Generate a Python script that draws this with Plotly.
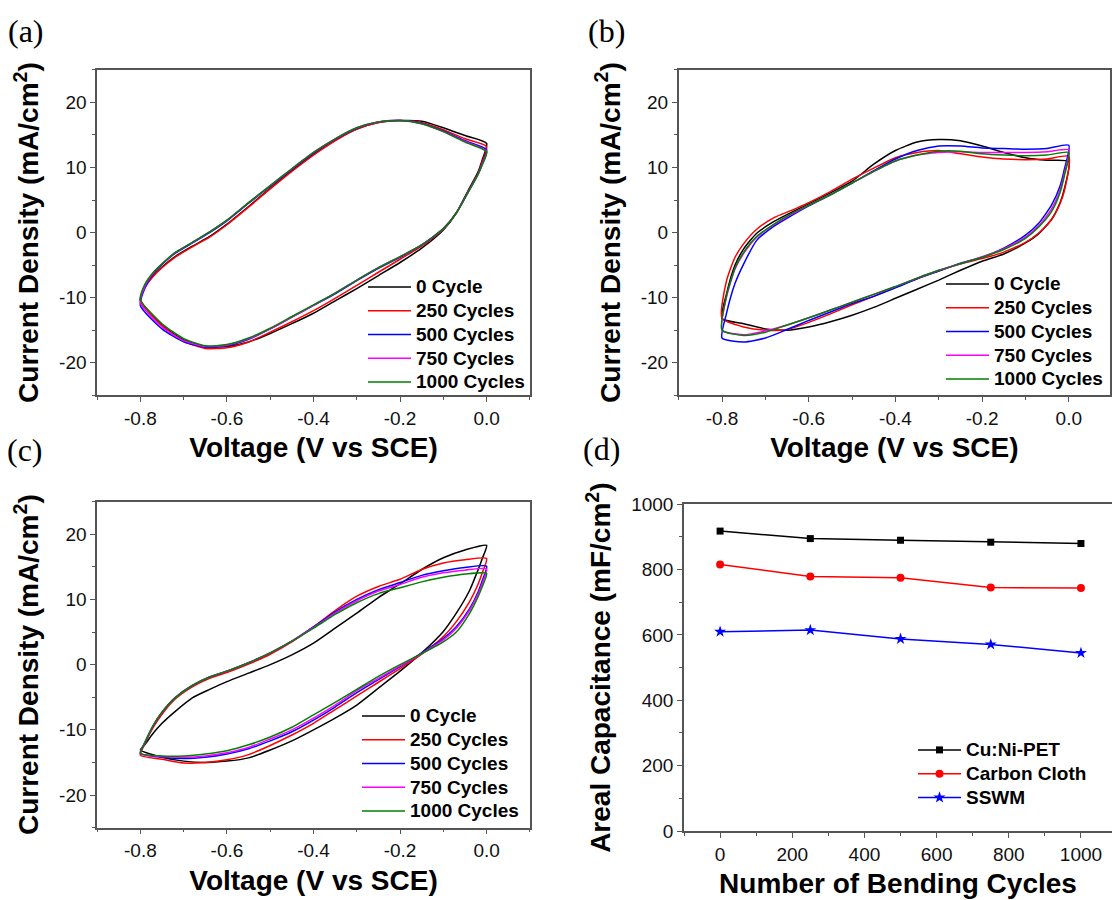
import plotly.graph_objects as go

# ---------------- data ----------------
V_UP = [-0.80, -0.79, -0.77, -0.75, -0.72, -0.68, -0.64, -0.60, -0.55, -0.50,
        -0.45, -0.40, -0.35, -0.30, -0.25, -0.20, -0.15, -0.10, -0.05, 0.00]
V_DOWN = [0.00, -0.01, -0.02, -0.04, -0.07, -0.10, -0.15, -0.20, -0.25, -0.30,
          -0.35, -0.40, -0.45, -0.50, -0.55, -0.60, -0.65, -0.70, -0.75, -0.80]

CV_LABELS = ["0 Cycle", "250 Cycles", "500 Cycles", "750 Cycles", "1000 Cycles"]
CV_COLORS = ["#000000", "#ff0000", "#0000ff", "#ff00ff", "#008000"]

# panel (a)
A0_UP = [-10.4, -8.4, -6.6, -5.3, -3.7, -2.1, -0.6, 1.3, 4.0, 6.8, 9.5, 12.0, 14.2, 15.9, 16.9, 17.2, 17.1, 16.1, 14.9, 13.7]
A0_DOWN = [13.7, 11.2, 9.3, 6.8, 3.0, 0.4, -2.4, -4.6, -6.6, -8.6, -10.5, -12.4, -14.0, -15.5, -16.8, -17.5, -17.5, -16.5, -14.2, -10.4]
A250_UP = [-10.4, -8.5, -6.7, -5.4, -3.8, -2.2, -0.7, 1.2, 3.9, 6.7, 9.4, 11.9, 14.1, 15.9, 16.9, 17.2, 16.9, 15.8, 14.4, 13.2]
A250_DOWN = [13.2, 10.9, 9.1, 6.7, 3.0, 0.5, -2.1, -4.1, -6.1, -8.1, -10.1, -12.0, -13.7, -15.3, -16.8, -17.7, -17.8, -16.7, -14.3, -10.4]
A500_UP = [-11.2, -8.6, -6.3, -4.9, -3.2, -1.6, 0.0, 1.8, 4.5, 7.1, 9.7, 12.2, 14.3, 16.0, 17.0, 17.2, 16.8, 15.6, 14.1, 12.7]
A500_DOWN = [12.7, 10.6, 9.0, 6.6, 3.0, 0.6, -1.9, -3.8, -5.5, -7.4, -9.4, -11.2, -13.0, -14.8, -16.4, -17.4, -17.6, -16.8, -14.8, -11.2]
A750_UP = [-10.8, -8.3, -6.2, -4.8, -3.1, -1.5, 0.1, 1.9, 4.6, 7.2, 9.8, 12.3, 14.4, 16.1, 17.0, 17.2, 16.7, 15.5, 14.0, 12.5]
A750_DOWN = [12.5, 10.5, 8.9, 6.5, 3.0, 0.6, -1.9, -3.7, -5.4, -7.3, -9.3, -11.2, -13.0, -14.8, -16.3, -17.3, -17.5, -16.6, -14.5, -10.8]
A1000_UP = [-10.3, -8.0, -6.1, -4.8, -3.1, -1.5, 0.1, 1.9, 4.6, 7.2, 9.8, 12.3, 14.4, 16.1, 17.0, 17.2, 16.7, 15.5, 13.9, 12.4]
A1000_DOWN = [12.4, 10.4, 8.9, 6.5, 3.0, 0.6, -1.9, -3.7, -5.4, -7.3, -9.3, -11.1, -12.9, -14.7, -16.2, -17.2, -17.4, -16.3, -14.0, -10.3]

# panel (b)
B0_UP = [-13.2, -9.5, -5.0, -2.5, -0.1, 1.7, 3.1, 4.4, 6.1, 7.9, 10.5, 12.6, 13.9, 14.3, 14.1, 13.3, 12.3, 11.5, 11.1, 10.9]
B0_DOWN = [10.9, 6.8, 4.6, 2.0, -0.2, -1.6, -3.3, -4.4, -5.8, -7.3, -8.7, -10.1, -11.5, -12.7, -13.7, -14.5, -15.0, -14.8, -14.0, -13.2]
B250_UP = [-13.2, -7.5, -3.8, -1.7, 0.5, 2.3, 3.4, 4.6, 6.3, 8.2, 9.9, 11.5, 12.3, 12.6, 12.1, 11.6, 11.3, 11.2, 11.3, 11.7]
B250_DOWN = [11.7, 6.5, 4.5, 2.0, -0.1, -1.5, -3.0, -4.0, -4.8, -5.9, -7.1, -8.4, -9.8, -11.1, -12.5, -13.8, -14.9, -15.0, -14.5, -13.2]
B500_UP = [-16.2, -12.5, -7.8, -4.8, -1.2, 1.0, 2.6, 4.1, 5.8, 7.6, 9.5, 11.3, 12.6, 13.3, 13.3, 13.0, 12.9, 12.8, 12.9, 13.4]
B500_DOWN = [13.4, 9.8, 7.2, 4.2, 1.4, -0.4, -2.4, -3.8, -4.7, -5.9, -7.1, -8.5, -9.8, -10.9, -12.2, -13.5, -14.9, -16.2, -16.8, -16.2]
B750_UP = [-15.0, -10.0, -5.6, -3.2, -0.7, 1.2, 2.8, 4.2, 5.8, 7.6, 9.4, 11.0, 11.9, 12.3, 12.4, 12.3, 12.3, 12.3, 12.4, 12.7]
B750_DOWN = [12.7, 9.2, 6.6, 3.6, 1.0, -0.7, -2.5, -3.7, -4.8, -5.8, -7.0, -8.3, -9.5, -10.7, -11.9, -13.1, -14.2, -15.1, -15.7, -15.0]
B1000_UP = [-15.0, -9.8, -5.4, -3.0, -0.6, 1.3, 2.9, 4.2, 5.8, 7.6, 9.4, 11.0, 11.9, 12.5, 12.5, 12.1, 11.9, 11.8, 11.9, 12.3]
B1000_DOWN = [12.3, 8.8, 6.2, 3.2, 0.8, -0.9, -2.6, -3.8, -4.8, -5.8, -7.0, -8.3, -9.5, -10.7, -11.9, -13.1, -14.2, -15.3, -15.8, -15.0]

# panel (c)
C0_UP = [-13.1, -12.3, -10.5, -9.0, -7.2, -5.1, -3.8, -2.6, -1.3, 0.0, 1.5, 3.3, 5.6, 7.9, 10.3, 12.4, 14.6, 16.4, 17.6, 18.3]
C0_DOWN = [18.3, 16.3, 14.5, 11.3, 7.9, 5.1, 1.8, -1.0, -3.6, -6.2, -8.2, -10.0, -11.7, -13.1, -14.3, -14.8, -15.0, -14.8, -14.2, -13.1]
C250_UP = [-13.9, -12.2, -9.6, -7.6, -5.3, -3.4, -2.1, -1.2, 0.1, 1.6, 3.5, 5.8, 8.3, 10.5, 12.0, 13.1, 14.6, 15.6, 16.1, 16.3]
C250_DOWN = [16.3, 14.1, 12.3, 9.6, 6.6, 4.3, 1.6, -0.6, -2.7, -4.8, -6.9, -9.0, -10.8, -12.4, -13.8, -14.6, -15.0, -15.1, -14.5, -13.9]
C500_UP = [-13.6, -12.0, -9.3, -7.3, -5.1, -3.2, -1.9, -1.0, 0.3, 1.8, 3.6, 5.8, 8.1, 10.0, 11.5, 12.6, 13.7, 14.4, 14.9, 15.1]
C500_DOWN = [15.1, 12.9, 11.1, 8.5, 5.8, 4.0, 1.8, -0.3, -2.3, -4.3, -6.5, -8.5, -10.3, -11.7, -12.9, -13.7, -14.2, -14.4, -14.2, -13.6]
C750_UP = [-13.6, -12.0, -9.3, -7.3, -5.1, -3.2, -1.9, -1.0, 0.3, 1.8, 3.6, 5.7, 7.9, 9.8, 11.3, 12.3, 13.4, 14.1, 14.5, 14.7]
C750_DOWN = [14.7, 12.5, 10.8, 8.3, 5.6, 3.8, 1.7, -0.2, -2.1, -4.0, -6.2, -8.2, -10.0, -11.4, -12.7, -13.5, -14.0, -14.2, -14.1, -13.6]
C1000_UP = [-13.6, -12.0, -9.3, -7.3, -5.1, -3.2, -1.9, -1.0, 0.3, 1.8, 3.6, 5.6, 7.7, 9.5, 10.9, 11.8, 12.7, 13.4, 13.9, 14.0]
C1000_DOWN = [14.0, 12.0, 10.4, 7.8, 5.0, 3.5, 1.7, 0.0, -1.8, -3.8, -5.8, -7.7, -9.6, -11.1, -12.3, -13.2, -13.7, -14.0, -14.0, -13.6]

# panel (d)
BEND_CYCLES = [0, 250, 500, 750, 1000]
CUNI_PET = [918, 895, 890, 884, 880]
CARBON_CLOTH = [816, 779, 775, 745, 744]
SSWM = [610, 615, 588, 571, 545]

# tick labels
V_TICKS = [-0.8, -0.6, -0.4, -0.2, 0.0]
V_TICKTEXT = ["-0.8", "-0.6", "-0.4", "-0.2", "0.0"]
I_TICKS = [-20, -10, 0, 10, 20]
I_TICKTEXT = ["-20", "-10", "0", "10", "20"]

# ---------------- figure ----------------
W, H = 1112, 900
FONT = "Arial, 'Liberation Sans', sans-serif"
AX_COLOR = "#555555"
LEG_TXT = "<span style='font-size:19px'>{}</span>"

fig = go.Figure()

panels = [
    ("x", "y", "legend", [(A0_UP, A0_DOWN), (A250_UP, A250_DOWN), (A500_UP, A500_DOWN),
                          (A750_UP, A750_DOWN), (A1000_UP, A1000_DOWN)]),
    ("x2", "y2", "legend2", [(B0_UP, B0_DOWN), (B250_UP, B250_DOWN), (B500_UP, B500_DOWN),
                             (B750_UP, B750_DOWN), (B1000_UP, B1000_DOWN)]),
    ("x3", "y3", "legend3", [(C0_UP, C0_DOWN), (C250_UP, C250_DOWN), (C500_UP, C500_DOWN),
                             (C750_UP, C750_DOWN), (C1000_UP, C1000_DOWN)]),
]

for xa, ya, leg, series in panels:
    for (up, down), name, color in zip(series, CV_LABELS, CV_COLORS):
        fig.add_trace(go.Scatter(
            x=V_UP + V_DOWN[1:], y=up + down[1:],
            mode="lines", name=LEG_TXT.format(name),
            line=dict(color=color, width=1.5, shape="spline", smoothing=0.6),
            xaxis=xa, yaxis=ya, legend=leg, hoverinfo="skip"))

for vals, name, color, sym, size in [
        (CUNI_PET, "Cu:Ni-PET", "#000000", "square", 7),
        (CARBON_CLOTH, "Carbon Cloth", "#ff0000", "circle", 8),
        (SSWM, "SSWM", "#0000ff", "star", 9)]:
    fig.add_trace(go.Scatter(
        x=BEND_CYCLES, y=vals, mode="lines+markers", name=LEG_TXT.format(name),
        line=dict(color=color, width=1.5),
        marker=dict(color=color, symbol=sym, size=size, line=dict(width=0)),
        xaxis="x4", yaxis="y4", legend="legend4"))


def px_x(p):
    return p / W


def px_y(p):
    return 1 - p / H


tick_font = dict(family=FONT, size=19, color="#111111")
title_font = dict(family=FONT, size=28, color="#000000", weight="bold")


def axis(domain, rng, title, tickvals=None, ticktext=None, dtick=None, minor_dtick=None,
         anchor=None, mirror=True, standoff=10):
    d = dict(domain=domain, range=rng, anchor=anchor, automargin=False,
             showline=True, linecolor=AX_COLOR, linewidth=1.5, mirror=mirror,
             ticks="outside", ticklen=5, tickwidth=1.3, tickcolor=AX_COLOR,
             showgrid=False, zeroline=False, tickfont=tick_font,
             title=dict(text=title, font=title_font, standoff=standoff),
             minor=dict(ticks="outside", ticklen=3, tickwidth=1.3, tickcolor=AX_COLOR,
                        dtick=minor_dtick, showgrid=False))
    if tickvals is not None:
        d.update(tickmode="array", tickvals=tickvals, ticktext=ticktext)
    else:
        d.update(tickmode="linear", tick0=0, dtick=dtick)
    return d


XT = "Voltage (V vs SCE)"
YT = "Current Density (mA/cm<sup>2</sup>)"

xa_dom = [px_x(97.1), px_x(529.9)]
xb_dom = [px_x(678.7), px_x(1110)]
xd_dom = [px_x(684), 1.0]
ya_dom = [px_y(395.3), px_y(69.8)]
yc_dom = [px_y(827.6), px_y(501.7)]
yd_dom = [px_y(831), px_y(504.3)]

fig.update_layout(
    width=W, height=H, margin=dict(l=0, r=0, t=0, b=0, autoexpand=False),
    paper_bgcolor="white", plot_bgcolor="white",
    font=dict(family=FONT, color="#000000"),
    xaxis=axis(xa_dom, [-0.9, 0.1], XT, V_TICKS, V_TICKTEXT, minor_dtick=0.1, anchor="y"),
    yaxis=axis(ya_dom, [-25, 25], YT, I_TICKS, I_TICKTEXT, minor_dtick=5, anchor="x", standoff=12),
    xaxis2=axis(xb_dom, [-0.9, 0.095], XT, V_TICKS, V_TICKTEXT, minor_dtick=0.1, anchor="y2"),
    yaxis2=axis(ya_dom, [-25, 25], YT, I_TICKS, I_TICKTEXT, minor_dtick=5, anchor="x2", standoff=12),
    xaxis3=axis(xa_dom, [-0.9, 0.1], XT, V_TICKS, V_TICKTEXT, minor_dtick=0.1, anchor="y3"),
    yaxis3=axis(yc_dom, [-25, 25], YT, I_TICKS, I_TICKTEXT, minor_dtick=5, anchor="x3", standoff=12),
    xaxis4=axis(xd_dom, [-100, 1086], "Number of Bending Cycles", dtick=200, minor_dtick=100,
                anchor="y4"),
    yaxis4=axis(yd_dom, [0, 1000], "Areal Capacitance (mF/cm<sup>2</sup>)", dtick=200,
                minor_dtick=100, anchor="x4", mirror=False, standoff=12),
    showlegend=True,
)

leg_common = dict(bgcolor="rgba(0,0,0,0)", borderwidth=0, itemwidth=43,
                  font=dict(family=FONT, size=16, color="#000000", weight="bold"),
                  xanchor="left", yanchor="top", tracegroupgap=0, itemclick=False)
fig.update_layout(
    legend=dict(x=px_x(363), y=px_y(270), **leg_common),
    legend2=dict(x=px_x(941), y=px_y(267), **leg_common),
    legend3=dict(x=px_x(357), y=px_y(699), **leg_common),
    legend4=dict(x=px_x(913), y=px_y(733), **leg_common),
)

for txt, cx, cy in [("(a)", 26, 31), ("(b)", 606, 31), ("(c)", 25, 450), ("(d)", 601, 449)]:
    fig.add_annotation(text=txt, x=px_x(cx), y=px_y(cy), xref="paper", yref="paper",
                       showarrow=False, xanchor="center", yanchor="middle",
                       font=dict(family="'Liberation Serif', 'Times New Roman', serif",
                                 size=32, color="#000000"))

fig.write_html("out.html")
